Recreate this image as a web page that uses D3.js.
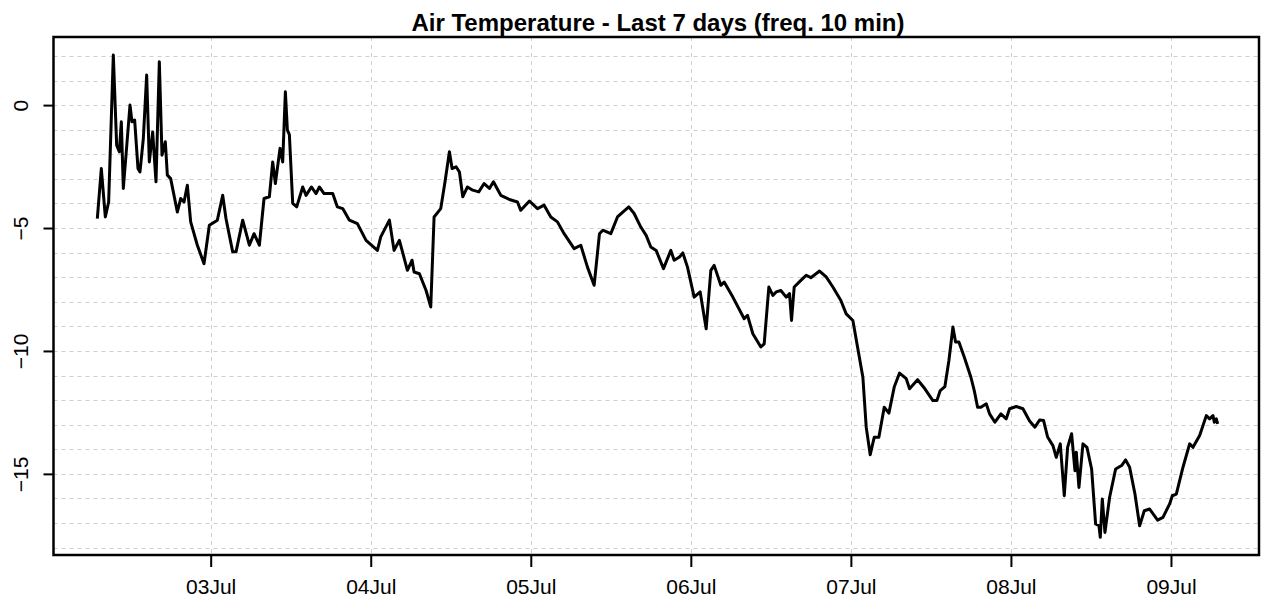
<!DOCTYPE html>
<html>
<head>
<meta charset="utf-8">
<script src="https://cdnjs.cloudflare.com/ajax/libs/d3/7.8.5/d3.min.js"></script>
<style>
  body { margin: 0; background: #fff; }
  svg { display: block; }
  text { font-family: "Liberation Sans", Arial, Helvetica, sans-serif; fill: #000; }
</style>
</head>
<body>
<svg id="chart" width="1261" height="600"></svg>
<script>
// Air temperature, 10 min samples
var title = "Air Temperature - Last 7 days (freq. 10 min)";
var startDay = Date.UTC(2019, 6, 2);   // 02Jul 00:00, hours below count from here

var hours = [
  7.0, 7.6, 8.2, 8.7, 9.4, 9.9, 10.3, 10.6, 10.9, 11.3, 11.9, 12.2, 12.6, 13.1, 13.4, 13.9,
  14.4, 14.8, 15.3, 15.8, 16.3, 16.7, 17.2, 17.5, 18.0, 19.0, 19.5, 20.0, 20.5, 21.0, 22.0, 23.0,
  23.8, 25.0, 25.8, 26.3, 27.3, 27.8, 28.8, 29.8, 30.5, 31.3, 32.0, 32.8, 33.3, 33.7, 34.4, 34.8,
  35.2, 35.5, 35.8, 36.3, 36.9, 37.8, 38.3, 39.1, 39.8, 40.3, 41.0, 42.3, 43.0, 43.8, 44.8, 46.0,
  47.3, 49.0, 49.5, 50.8, 51.5, 52.3, 53.5, 54.2, 54.5, 55.3, 56.3, 57.0, 57.5, 58.5, 59.1, 59.8,
  60.2, 60.8, 61.3, 61.8, 62.5, 63.3, 64.2, 65.0, 65.8, 66.4, 67.5, 68.8, 70.0, 70.5, 71.8, 73.0,
  74.0, 75.0, 76.0, 77.0, 78.5, 79.5, 80.5, 81.5, 82.3, 82.8, 84.0, 85.0, 85.8, 86.7, 87.5, 88.5,
  89.3, 90.0, 90.8, 91.9, 93.0, 93.5, 94.3, 94.8, 95.5, 96.5, 97.4, 98.3, 99.0, 99.5, 100.5, 101.0,
  102.3, 104.0, 104.5, 105.3, 106.5, 107.0, 107.7, 108.3, 108.8, 109.5, 110.3, 110.8, 111.1, 111.5, 112.5, 113.3,
  114.0, 115.3, 116.3, 117.3, 118.5, 119.3, 120.3, 121.0, 121.8, 122.3, 122.9, 123.5, 124.2, 125.0, 125.7, 126.5,
  127.3, 128.3, 128.8, 130.0, 131.1, 132.3, 132.9, 133.4, 134.1, 134.7, 135.3, 135.7, 136.2, 137.0, 138.0, 138.5,
  139.0, 139.5, 140.3, 140.8, 141.6, 142.5, 143.3, 143.8, 144.8, 145.8, 146.8, 147.6, 148.3, 148.9, 149.5, 150.3,
  150.8, 151.4, 152.0, 152.5, 153.1, 153.6, 153.8, 154.2, 154.8, 155.4, 156.1, 156.7, 157.2, 157.4, 157.7, 158.1,
  158.8, 159.7, 160.6, 161.2, 161.8, 162.6, 163.3, 164.0, 164.8, 166.0, 166.8, 167.8, 168.2, 168.8, 169.8, 170.8,
  171.3, 172.3, 173.3, 173.8, 174.3, 174.5, 174.8, 175.0
];

var temps = [
  -4.62, -2.58, -4.55, -3.94, 2.04, -1.63, -1.90, -0.68, -3.39, -2.04, 0.00, -0.68, -0.61, -2.58, -2.72, -1.36,
  1.22, -2.31, -1.09, -3.12, 1.76, -2.04, -1.49, -2.85, -2.99, -4.35, -3.80, -3.94, -3.26, -4.75, -5.70, -6.45,
  -4.89, -4.68, -3.67, -4.62, -5.97, -5.97, -4.68, -5.70, -5.23, -5.70, -3.80, -3.73, -2.31, -3.19, -1.76, -2.31,
  0.54, -1.02, -1.20, -4.00, -4.14, -3.33, -3.67, -3.33, -3.60, -3.33, -3.60, -3.60, -4.14, -4.21, -4.68, -4.82,
  -5.50, -5.91, -5.36, -4.68, -5.91, -5.50, -6.72, -6.31, -6.79, -6.86, -7.54, -8.21, -4.55, -4.21, -3.19, -1.90,
  -2.58, -2.51, -2.72, -3.73, -3.33, -3.46, -3.53, -3.19, -3.39, -3.12, -3.67, -3.84, -3.94, -4.28, -3.90, -4.21,
  -4.07, -4.55, -4.75, -5.23, -5.84, -5.70, -6.59, -7.33, -5.23, -5.09, -5.23, -4.55, -4.35, -4.14, -4.41, -4.96,
  -5.30, -5.77, -5.91, -6.65, -5.91, -6.31, -6.18, -6.01, -6.59, -7.81, -7.60, -9.10, -6.72, -6.52, -7.33, -7.20,
  -7.81, -8.69, -8.55, -9.30, -9.84, -9.71, -7.40, -7.74, -7.60, -7.54, -7.81, -7.67, -8.76, -7.40, -7.13, -6.92,
  -7.02, -6.75, -6.99, -7.40, -7.95, -8.49, -8.76, -9.84, -11.07, -13.10, -14.22, -13.51, -13.51, -12.29, -12.53, -11.47,
  -10.90, -11.13, -11.54, -11.17, -11.54, -12.02, -12.02, -11.61, -11.45, -10.39, -9.03, -9.64, -9.64, -10.25, -11.07, -11.61,
  -12.29, -12.29, -12.15, -12.56, -12.90, -12.56, -12.76, -12.35, -12.26, -12.35, -12.85, -13.10, -12.81, -12.83, -13.50, -13.85,
  -14.33, -13.78, -15.89, -13.92, -13.37, -14.87, -14.12, -15.55, -13.78, -13.92, -14.80, -17.04, -17.11, -17.58, -16.02, -17.38,
  -15.95, -14.80, -14.66, -14.43, -14.73, -15.82, -17.11, -16.50, -16.43, -16.88, -16.77, -16.22, -15.89, -15.82, -14.73, -13.78,
  -13.92, -13.44, -12.63, -12.76, -12.63, -12.90, -12.76, -12.97
];

var yTicks = [0, -5, -10, -15];
var dayTicks = [1, 2, 3, 4, 5, 6, 7];      // days after 02Jul -> 03Jul .. 09Jul
var xLimHours = [0.43, 181.2];             // plot window, as in the picture
var yLim = [-18.3, 2.77];

var svg = d3.select("#chart"),
    plotLeft = 53.5, plotRight = 1259, plotTop = 37, plotBottom = 555;

var hour = 3600 * 1000;
var data = hours.map(function(h, i) { return { t: new Date(startDay + h * hour), v: temps[i] }; });

var x = d3.scaleUtc()
    .domain(xLimHours.map(function(h) { return new Date(startDay + h * hour); }))
    .range([plotLeft, plotRight]);
var y = d3.scaleLinear().domain(yLim).range([plotBottom, plotTop]);

var dayDates = dayTicks.map(function(d) { return new Date(startDay + d * 24 * hour); });

// grid
var grid = svg.append("g").attr("class", "grid")
    .attr("stroke", "#cfcfcf").attr("stroke-width", 1).attr("stroke-dasharray", "4,4");
grid.selectAll("line.h")
    .data(d3.range(-18, 3))
    .enter().append("line").attr("class", "h")
    .attr("x1", plotLeft).attr("x2", plotRight)
    .attr("y1", function(d) { return Math.round(y(d)) + 0.5; })
    .attr("y2", function(d) { return Math.round(y(d)) + 0.5; });
grid.selectAll("line.v")
    .data(dayDates)
    .enter().append("line").attr("class", "v")
    .attr("y1", plotTop).attr("y2", plotBottom)
    .attr("x1", function(d) { return Math.round(x(d)) + 0.5; })
    .attr("x2", function(d) { return Math.round(x(d)) + 0.5; });

// series
var line = d3.line()
    .x(function(d) { return x(d.t); })
    .y(function(d) { return y(d.v); });

svg.append("path")
    .datum(data)
    .attr("fill", "none")
    .attr("stroke", "#000")
    .attr("stroke-width", 3)
    .attr("stroke-linejoin", "round")
    .attr("d", line);

// axes
var xAxis = svg.append("g")
    .attr("transform", "translate(0," + plotBottom + ")")
    .call(d3.axisBottom(x).tickValues(dayDates).tickFormat(d3.utcFormat("%d%b"))
        .tickSize(12).tickPadding(12));
xAxis.select(".domain").remove();
xAxis.selectAll("line").attr("stroke", "#000").attr("stroke-width", 2);
xAxis.selectAll("text").attr("font-size", 21).attr("fill", "#222");

var yAxis = svg.append("g")
    .attr("transform", "translate(" + plotLeft + ",0)")
    .call(d3.axisLeft(y).tickValues(yTicks).tickFormat(d3.format("d")).tickSize(10));
yAxis.select(".domain").remove();
yAxis.selectAll("line").attr("stroke", "#000").attr("stroke-width", 2);
yAxis.selectAll("text")
    .attr("font-size", 21).attr("fill", "#222")
    .attr("x", null).attr("dy", null)
    .attr("text-anchor", "middle")
    .attr("transform", "translate(-26,0) rotate(-90)");

// frame
svg.append("rect")
    .attr("x", plotLeft).attr("y", plotTop)
    .attr("width", plotRight - plotLeft).attr("height", plotBottom - plotTop)
    .attr("fill", "none").attr("stroke", "#000").attr("stroke-width", 2.5);

// title
svg.append("text")
    .attr("x", 658).attr("y", 31)
    .attr("text-anchor", "middle")
    .attr("font-size", 24).attr("font-weight", "bold")
    .text(title);
</script>
</body>
</html>
